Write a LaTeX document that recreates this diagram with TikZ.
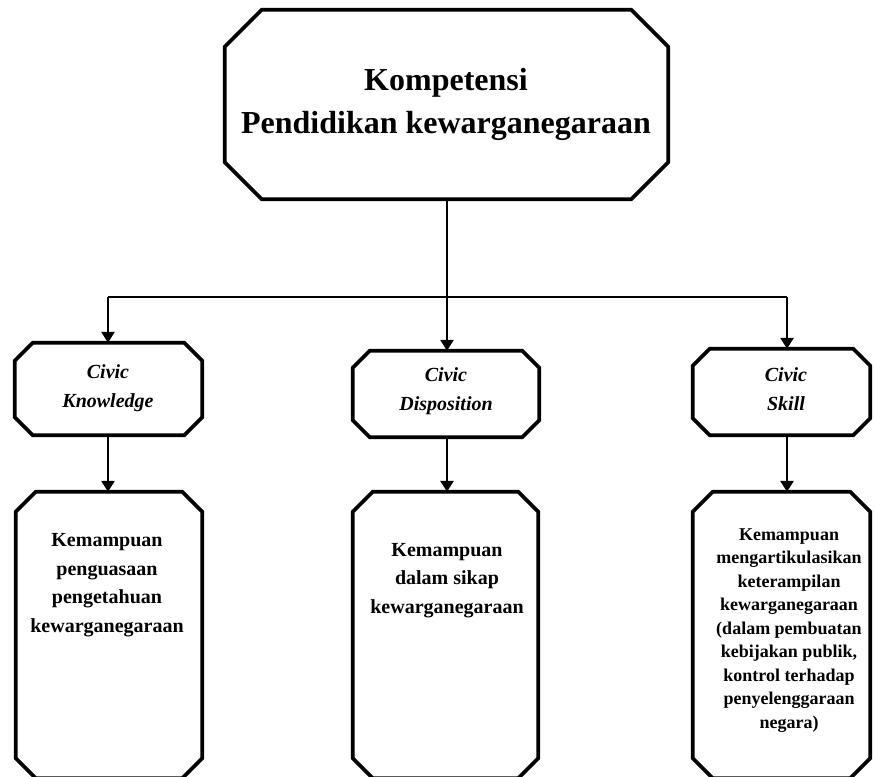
\documentclass[tikz,border=0pt]{standalone}
\usepackage{fontspec}
\setmainfont{Liberation Serif}
\usetikzlibrary{arrows.meta}
\tikzset{
  boxline/.style={line width=3.7pt, line join=miter},
  frame/.style={rectangle, draw=none, inner sep=0pt},
  conn/.style={line width=2.7pt},
  arr/.style={conn, -{Triangle[length=11pt,width=13pt]}},
  ttl/.style={align=center, inner sep=0pt, font=\fontsize{32}{43}\selectfont\bfseries},
  civ/.style={align=center, inner sep=0pt, font=\fontsize{20}{29}\selectfont\bfseries\itshape},
  desc/.style={align=center, inner sep=0pt, font=\fontsize{20}{28.4}\selectfont\bfseries},
  descs/.style={align=center, inner sep=0pt, font=\fontsize{18}{23.5}\selectfont\bfseries}
}
\newcommand\octobox[2]{\draw[boxline] ([xshift=#2]#1.north west) -- ([xshift=-#2]#1.north east) -- ([yshift=-#2]#1.north east) -- ([yshift=#2]#1.south east) -- ([xshift=-#2]#1.south east) -- ([xshift=#2]#1.south west) -- ([yshift=#2]#1.south west) -- ([yshift=-#2]#1.north west) -- cycle;}
\begin{document}
\begin{tikzpicture}[x=1pt,y=-1pt]
\useasboundingbox (0,0) rectangle (875,776);
\clip (0,0) rectangle (875,776);
% boxes
\node[frame, minimum width=443pt, minimum height=189pt] (top) at (446.5,104.5) {};
\node[frame, minimum width=187pt, minimum height=92pt] (K1) at (108.5,389) {};
\node[frame, minimum width=186pt, minimum height=86pt] (D1) at (446,394) {};
\node[frame, minimum width=177pt, minimum height=86pt] (S1) at (781.5,392) {};
\node[frame, minimum width=186pt, minimum height=286pt] (K2) at (109,635) {};
\node[frame, minimum width=185pt, minimum height=286pt] (D2) at (445.5,635) {};
\node[frame, minimum width=177pt, minimum height=286pt] (S2) at (781.5,635) {};
\octobox{top}{37pt}
\octobox{K1}{18pt}
\octobox{D1}{17pt}
\octobox{S1}{17pt}
\octobox{K2}{20pt}
\octobox{D2}{20pt}
\octobox{S2}{20pt}
% texts (anchor=base sits on the last line's baseline)
\node[ttl, anchor=base] (tt) at (446,133) {Kompetensi\\Pendidikan kewarganegaraan};
\node[civ, anchor=base] (K1t) at (108,407) {Civic\\Knowledge};
\node[civ, anchor=base] (D1t) at (446,410) {Civic\\Disposition};
\node[civ, anchor=base] (S1t) at (786,410) {Civic\\Skill};
\node[desc, anchor=base] (K2t) at (107,632) {Kemampuan\\penguasaan\\pengetahuan\\kewarganegaraan};
\node[desc, anchor=base] (D2t) at (447,613) {Kemampuan\\dalam sikap\\kewarganegaraan};
\node[descs, anchor=base] (S2t) at (789,728) {Kemampuan\\mengartikulasikan\\keterampilan\\kewarganegaraan\\(dalam pembuatan\\kebijakan publik,\\kontrol terhadap\\penyelenggaraan\\negara)};
% connectors
\coordinate (j) at (447,297);
\coordinate (jl) at (108,297);
\coordinate (jr) at (787,297);
\draw[conn] (jl) -- (jr);
\draw[arr] (top.south -| j) -- (j |- D1.north);
\draw[arr] (jl) -- (jl |- K1.north);
\draw[arr] (jr) -- (jr |- S1.north);
\draw[arr] (K1.south -| jl) -- (jl |- K2.north);
\draw[arr] (D1.south -| j) -- (j |- D2.north);
\draw[arr] (S1.south -| jr) -- (jr |- S2.north);
\end{tikzpicture}
\end{document}
